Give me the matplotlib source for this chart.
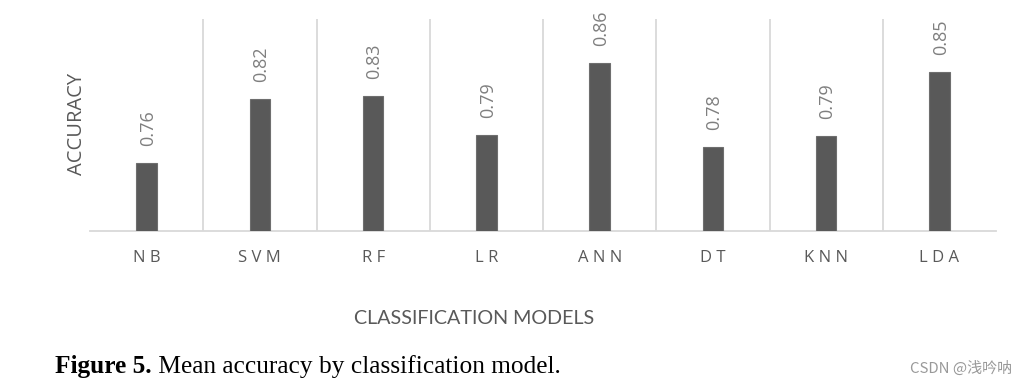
import matplotlib
matplotlib.use("Agg")
import matplotlib.pyplot as plt

categories = ["NB", "SVM", "RF", "LR", "ANN", "DT", "KNN", "LDA"]
accuracy = [0.760, 0.824, 0.827, 0.788, 0.860, 0.776, 0.787, 0.851]
y_label = "ACCURACY"
x_label = "CLASSIFICATION MODELS"
caption_bold = "Figure 5."
caption_rest = " Mean accuracy by classification model."
watermark = "CSDN @浅吟呐"

W, H = 1019, 386
fig = plt.figure(figsize=(W / 100, H / 100), dpi=100)
ax = fig.add_axes([90 / W, (H - 231) / H, (996 - 90) / W, (231 - 19) / H])

x = list(range(len(categories)))
ax.bar(x, accuracy, width=0.18, color="#595959", edgecolor="#6e6e6e", linewidth=0.8, zorder=3)
ax.set_xlim(-0.5, len(categories) - 0.5)
ax.set_ylim(0.692, 0.904)

for i, v in zip(x, accuracy):
    ax.annotate(f"{v:.2f}", (i, v), xytext=(1, 12), textcoords="offset points",
                rotation=90, ha="center", va="bottom", fontsize=13,
                color="#7f7f7f", family="Open Sans")

for b in [i + 0.5 for i in x[:-1]]:
    ax.axvline(b, color="#d9d9d9", linewidth=1.3, zorder=1)

for s in ["left", "right", "top"]:
    ax.spines[s].set_visible(False)
ax.spines["bottom"].set_color("#d9d9d9")
ax.spines["bottom"].set_linewidth(1.3)
ax.set_yticks([])
ax.set_xticks(x)
ax.set_xticklabels([" ".join(c) for c in categories], fontsize=12,
                   color="#595959", family="Open Sans")
ax.tick_params(axis="x", length=0, pad=14)

fig.text(77 / W, 1 - 124 / H, y_label, rotation=90, ha="center", va="center",
         fontsize=14.5, color="#595959", family="Open Sans")
fig.text(474 / W, 1 - 318 / H, x_label, ha="center", va="center",
         fontsize=14.2, color="#595959", family="Lato")

t1 = fig.text(55 / W, 1 - 367 / H, caption_bold, ha="left", va="center",
              fontsize=18.3, fontweight="bold", color="black", family="Liberation Serif")
fig.canvas.draw()
bb = t1.get_window_extent()
fig.text(bb.x1 / W, 1 - 367 / H, caption_rest, ha="left", va="center",
         fontsize=18.3, color="black", family="Liberation Serif")

fig.text(1012 / W, 1 - 368 / H, watermark, ha="right", va="center", fontsize=10.8,
         color="#999999", family=["Noto Sans CJK SC", "DejaVu Sans"])

fig.savefig("out.png", dpi=100)
